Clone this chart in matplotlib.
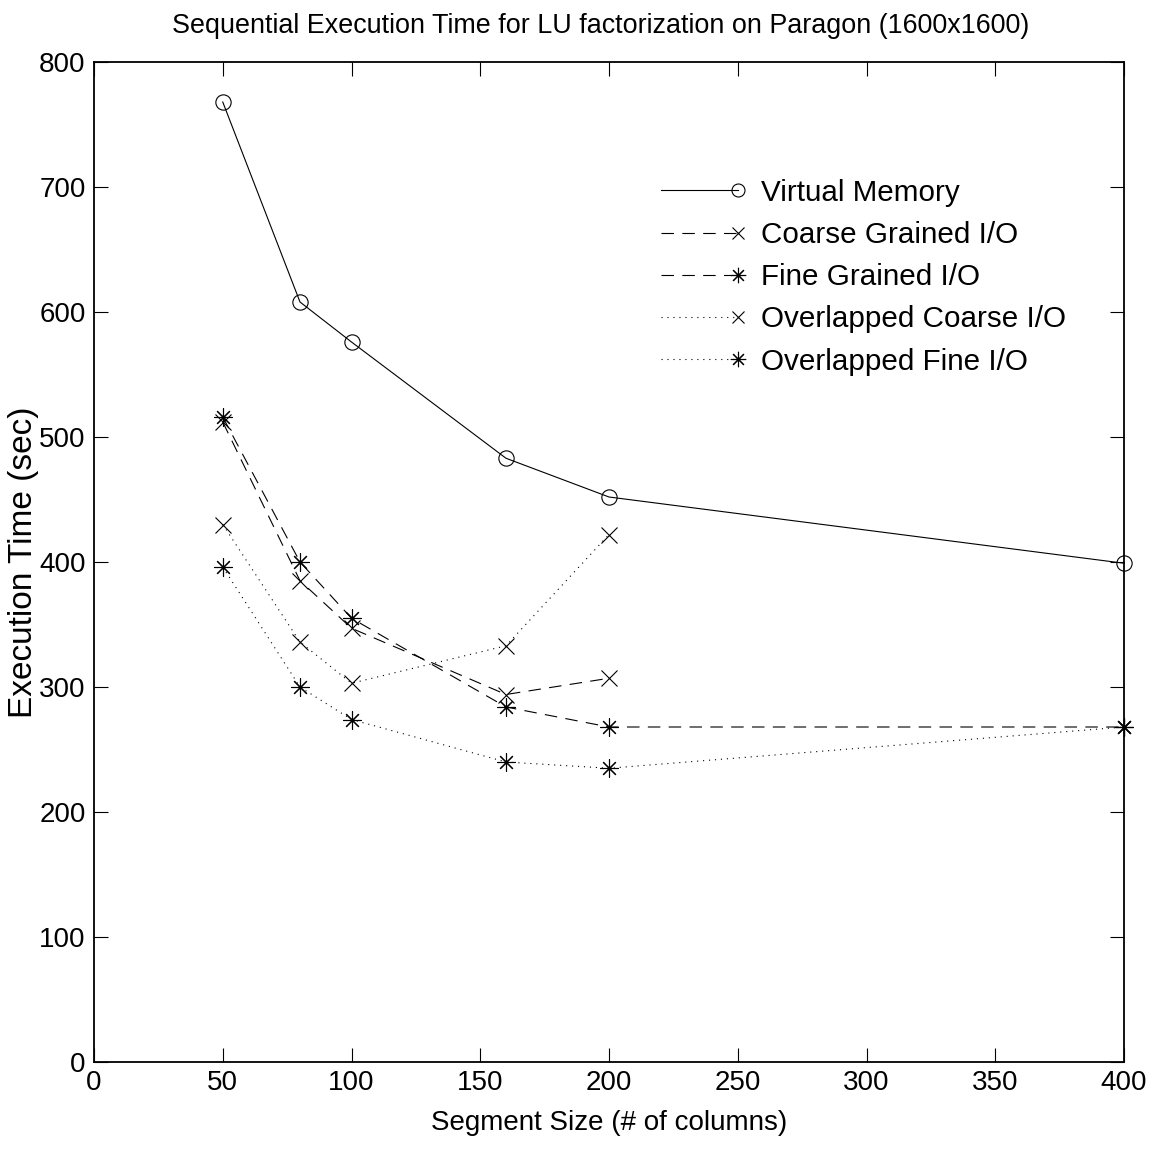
import matplotlib
matplotlib.use("Agg")
import matplotlib.pyplot as plt
from matplotlib.lines import Line2D
from matplotlib.legend_handler import HandlerLine2D

plt.rcParams['font.family'] = ['Liberation Sans Narrow', 'Liberation Sans', 'DejaVu Sans']
plt.rcParams['lines.scale_dashes'] = False

# segment sizes (# of columns)
seg_sizes = [50, 80, 100, 160, 200, 400]
seg_sizes_coarse = [50, 80, 100, 160, 200]

# execution times (sec)
virtual_memory = [768, 608, 576, 483, 452, 399]
coarse_io = [512, 385, 347, 294, 307]
fine_io = [516, 400, 355, 284, 268, 268]
overlap_coarse_io = [430, 336, 303, 333, 422]
overlap_fine_io = [396, 300, 274, 240, 235, 268]

labels = ["Virtual Memory", "Coarse Grained I/O", "Fine Grained I/O",
          "Overlapped Coarse I/O", "Overlapped Fine I/O"]

x_ticks = [0, 50, 100, 150, 200, 250, 300, 350, 400]
y_ticks = [0, 100, 200, 300, 400, 500, 600, 700, 800]

dashed = (0, (9, 6))
dotted = (0, (0.8, 3.5))
star = (8, 2, 0)
lw = 0.8


class EndMarkerHandler(HandlerLine2D):
    # matlab style legend: marker only at the right end of the sample line
    def create_artists(self, *args, **kwargs):
        arts = super().create_artists(*args, **kwargs)
        for a in arts:
            if len(a.get_xdata()) > 1:
                a.set_markevery([len(a.get_xdata()) - 1])
        return arts


fig = plt.figure(figsize=(11.56, 11.50), dpi=100)
ax = fig.add_axes([94 / 1156, 1 - 1062 / 1150, (1124 - 94) / 1156, (1062 - 62) / 1150])

styles = [
    (seg_sizes, virtual_memory, '-', 'o', 11),
    (seg_sizes_coarse, coarse_io, dashed, 'x', 11),
    (seg_sizes, fine_io, dashed, star, 13),
    (seg_sizes_coarse, overlap_coarse_io, dotted, 'x', 11),
    (seg_sizes, overlap_fine_io, dotted, star, 13),
]

handles = []
for (xs, ys, ls, mk, ms), lab in zip(styles, labels):
    ax.plot(xs, ys, color='black', linestyle=ls, linewidth=lw,
            marker=mk, markersize=ms, markerfacecolor='none',
            markeredgecolor='black', markeredgewidth=lw, clip_on=False)
    handles.append(Line2D([0, 1], [0, 0], color='black', linestyle=ls, linewidth=lw,
                          marker=mk, markersize=ms * 0.85, markerfacecolor='none',
                          markeredgecolor='black', markeredgewidth=lw))

ax.set_xlim(0, 400)
ax.set_ylim(0, 800)
ax.set_xticks(x_ticks)
ax.set_yticks(y_ticks)
ax.tick_params(direction='in', length=10, width=0.8, top=True, right=True,
               labelsize=20, pad=6)
for sp in ax.spines.values():
    sp.set_linewidth(1.3)

ax.set_title("Sequential Execution Time for LU factorization on Paragon (1600x1600)",
             fontsize=19.4, pad=21, x=0.492)
ax.set_xlabel("Segment Size (# of columns)", fontsize=20, labelpad=10)
ax.set_ylabel("Execution Time (sec)", fontsize=24, labelpad=0)

ax.legend(handles, labels, loc='upper left', bbox_to_anchor=(0.53, 0.895),
          frameon=False, fontsize=21.3, numpoints=2, handlelength=3.2,
          handletextpad=0.5, labelspacing=0.48, borderaxespad=0,
          handler_map={Line2D: EndMarkerHandler()})

fig.savefig("out.png", dpi=100)
